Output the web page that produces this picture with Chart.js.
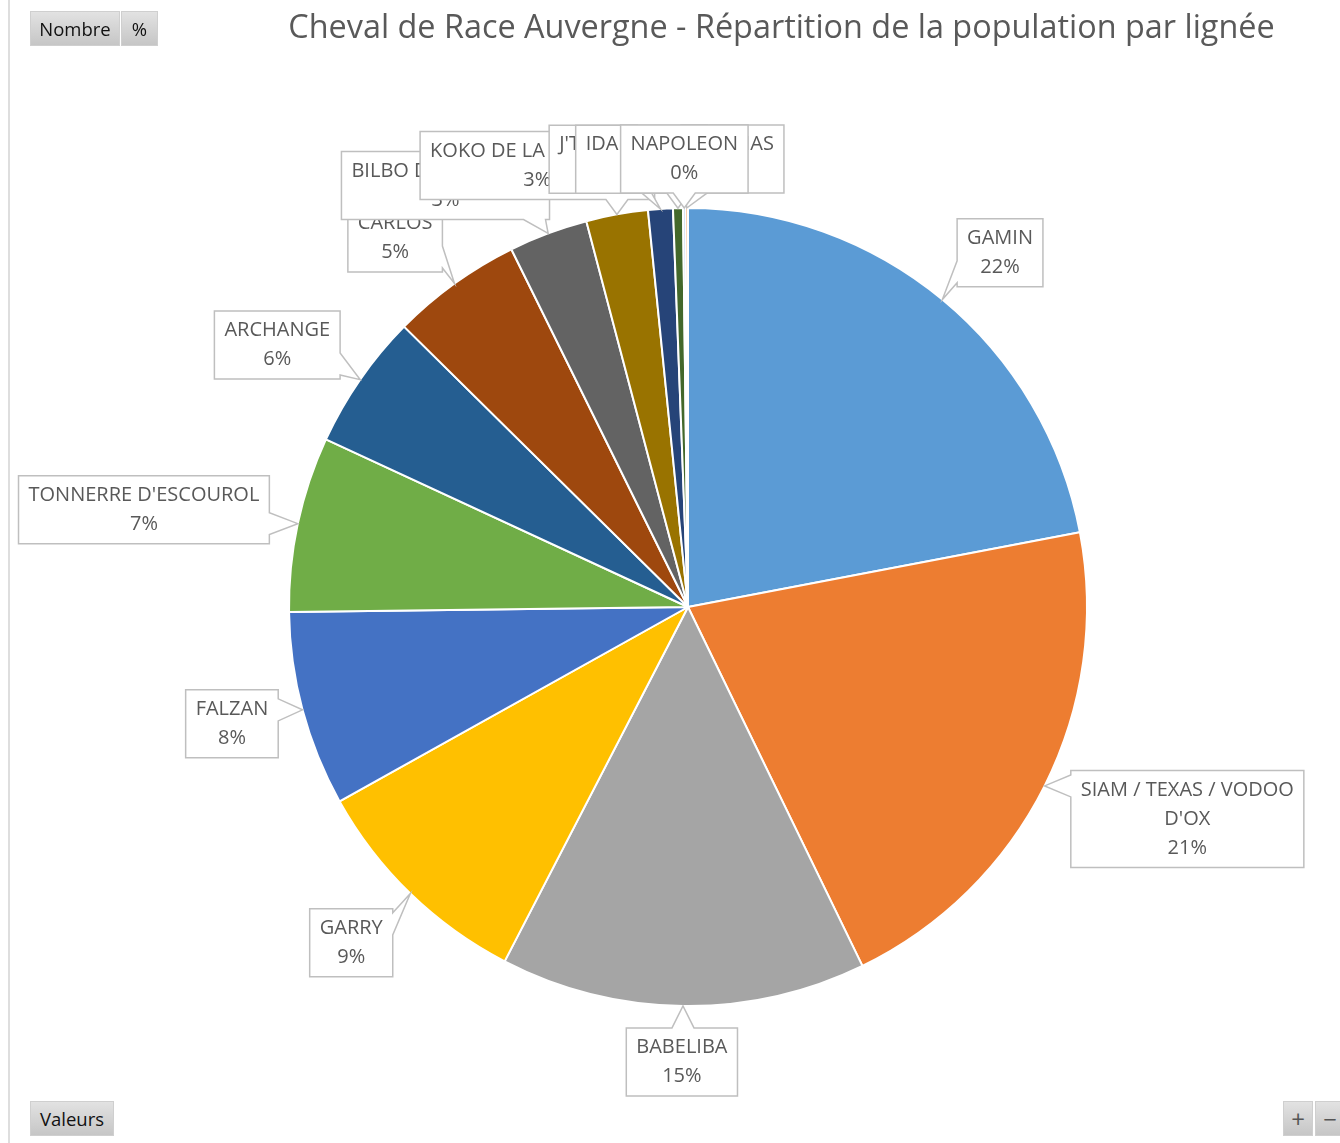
<!DOCTYPE html>
<html lang="fr">
<head>
<meta charset="utf-8">
<title>Cheval de Race Auvergne</title>
<script src="https://cdn.jsdelivr.net/npm/chart.js@4.4.0/dist/chart.umd.min.js"></script>
<style>
  body { margin: 0; background: #fff; font-family: "Open Sans", sans-serif; }
  #page { position: relative; width: 1340px; height: 1143px; overflow: hidden; }
  #edge { position: absolute; left: 8px; top: 0; width: 2px; height: 1143px; background: #dedede; }
  #wrap { position: absolute; left: 0; top: 0; width: 1340px; height: 1143px; }
  #title { position: absolute; left: 280px; top: 3px; width: 1003px; text-align: center;
           font-size: 32.4px; color: #595959; white-space: nowrap; }
  .btn { position: absolute; height: 35px; line-height: 33px; font-size: 18.5px; color: #111;
         background: linear-gradient(#e2e2e2, #c6c6c6); border: 1px solid #cfcfcf;
         box-sizing: border-box; text-align: center; }
</style>
</head>
<body>
<div id="page">
  <div id="edge"></div>
  <div id="wrap"><canvas id="pieChart"></canvas></div>
  <div id="title">Cheval de Race Auvergne - Répartition de la population par lignée</div>
  <div class="btn" style="left:30px;top:11px;width:90px;">Nombre</div>
  <div class="btn" style="left:121px;top:11px;width:37px;">%</div>
  <div class="btn" style="left:30px;top:1101px;width:84px;">Valeurs</div>
  <div class="btn" style="left:1283px;top:1101px;width:30px;font-size:24px;color:#555;">+</div>
  <div class="btn" style="left:1315px;top:1101px;width:30px;font-size:24px;color:#555;">&minus;</div>
</div>

<script>
// lineages, clockwise from 12 o'clock
const lineages = ["GAMIN", "SIAM / TEXAS / VODOO D'OX", "BABELIBA", "GARRY", "FALZAN",
                  "TONNERRE D'ESCOUROL", "ARCHANGE", "CARLOS", "BILBO DE LA ROCHE",
                  "KOKO DE LA PRADELLE", "J'TAIME", "IDA DU BOS", "NAPOLEON", "THOMAS"];
// share of the population (%)
const shares = [22.0, 20.8, 14.8, 9.3, 7.9, 7.1, 5.5, 5.3, 3.2, 2.5, 1.0, 0.4, 0.1, 0.1];

const sliceColors = ["#5B9BD5", "#ED7D31", "#A5A5A5", "#FFC000", "#4472C4", "#70AD47",
                     "#255E91", "#9E480E", "#636363", "#997300", "#264478", "#43682B",
                     "#698ED0", "#F1975A"];

// small shifts of the label boxes; the thin slices get stacked the way Excel does it
const labelNudge = { 0: [10, 4], 1: [10, -3], 2: [0, -10], 3: [-8, 2], 4: [5, -3], 6: [-5, 3],
                     7: [-13, 8], 8: [-55, 14], 9: [-53, 16], 10: [-62, 16],
                     11: [-34, 17], 12: [1, 17], 13: [46, 17] };
const drawOrder = [0, 1, 2, 3, 4, 5, 6, 7, 8, 9, 10, 11, 13, 12];

const LABEL_FONT = '20px "Open Sans"';
const LINE_H = 29, PAD_X = 10, PAD_Y = 5;

function wrapText(ctx, text, maxW) {
    const words = text.split(' ');
    const lines = [];
    let cur = '';
    words.forEach(w => {
        const test = cur ? cur + ' ' + w : w;
        if (cur && ctx.measureText(test).width > maxW) {
            lines.push(cur);
            cur = w;
        } else {
            cur = test;
        }
    });
    if (cur) lines.push(cur);
    return lines;
}

const clamp = (v, a, b) => Math.max(a, Math.min(b, v));

function drawCallout(ctx, b) {
    const x0 = b.x0, y0 = b.y0, x1 = b.x0 + b.w, y1 = b.y0 + b.h;
    const [tx, ty] = b.tip;
    const outX = Math.max(x0 - tx, tx - x1, 0);
    const outY = Math.max(y0 - ty, ty - y1, 0);
    const half = 11;
    let side = -1;
    if (outX || outY) {
        if (outY >= outX) side = ty < y0 ? 0 : 2;
        else side = tx > x1 ? 1 : 3;
    }
    const mx = clamp(tx, x0 + half + 4, x1 - half - 4);
    const my = clamp(ty, y0 + half + 4, y1 - half - 4);

    ctx.beginPath();
    ctx.moveTo(x0, y0);
    if (side === 0) { ctx.lineTo(mx - half, y0); ctx.lineTo(tx, ty); ctx.lineTo(mx + half, y0); }
    ctx.lineTo(x1, y0);
    if (side === 1) { ctx.lineTo(x1, my - half); ctx.lineTo(tx, ty); ctx.lineTo(x1, my + half); }
    ctx.lineTo(x1, y1);
    if (side === 2) { ctx.lineTo(mx + half, y1); ctx.lineTo(tx, ty); ctx.lineTo(mx - half, y1); }
    ctx.lineTo(x0, y1);
    if (side === 3) { ctx.lineTo(x0, my + half); ctx.lineTo(tx, ty); ctx.lineTo(x0, my - half); }
    ctx.closePath();
    ctx.fillStyle = '#ffffff';
    ctx.fill();
    ctx.strokeStyle = '#bfbfbf';
    ctx.lineWidth = 1.5;
    ctx.stroke();

    ctx.fillStyle = '#595959';
    ctx.textAlign = 'center';
    ctx.textBaseline = 'middle';
    const cx = x0 + b.w / 2;
    b.lines.forEach((l, k) => {
        ctx.fillText(l, cx, y0 + PAD_Y + LINE_H * k + LINE_H / 2);
    });
}

const calloutPlugin = {
    id: 'callouts',
    afterDatasetsDraw(chart) {
        const ctx = chart.ctx;
        const meta = chart.getDatasetMeta(0);
        const total = shares.reduce((a, b) => a + b, 0);
        ctx.save();
        ctx.font = LABEL_FONT;
        const boxes = meta.data.map((arc, i) => {
            const p = arc.getProps(['x', 'y', 'startAngle', 'endAngle', 'outerRadius'], true);
            const mid = (p.startAngle + p.endAngle) / 2;
            const dx = Math.cos(mid), dy = Math.sin(mid);
            const lines = wrapText(ctx, lineages[i], 236);
            lines.push(Math.round(shares[i] / total * 100) + '%');
            const w = Math.max(...lines.map(l => ctx.measureText(l).width)) + 2 * PAD_X;
            const h = lines.length * LINE_H + 2 * PAD_Y;
            const ax = p.x + dx * p.outerRadius * 1.08;
            const ay = p.y + dy * p.outerRadius * 1.08;
            const n = labelNudge[i] || [0, 0];
            const bx = ax + dx * w / 2 + n[0];
            const by = ay + dy * h / 2 + n[1];
            return {
                lines, w, h,
                x0: bx - w / 2, y0: by - h / 2,
                tip: [p.x + dx * p.outerRadius, p.y + dy * p.outerRadius]
            };
        });
        drawOrder.forEach(i => drawCallout(ctx, boxes[i]));
        ctx.restore();
    }
};

new Chart(document.getElementById('pieChart'), {
    type: 'pie',
    data: {
        labels: lineages,
        datasets: [{
            data: shares,
            backgroundColor: sliceColors,
            borderColor: '#ffffff',
            borderWidth: 2
        }]
    },
    options: {
        responsive: true,
        maintainAspectRatio: false,
        animation: false,
        layout: { padding: { left: 288, right: 252, top: 207, bottom: 136 } },
        plugins: {
            legend: { display: false },
            tooltip: { enabled: false }
        }
    },
    plugins: [calloutPlugin]
});
</script>
</body>
</html>
